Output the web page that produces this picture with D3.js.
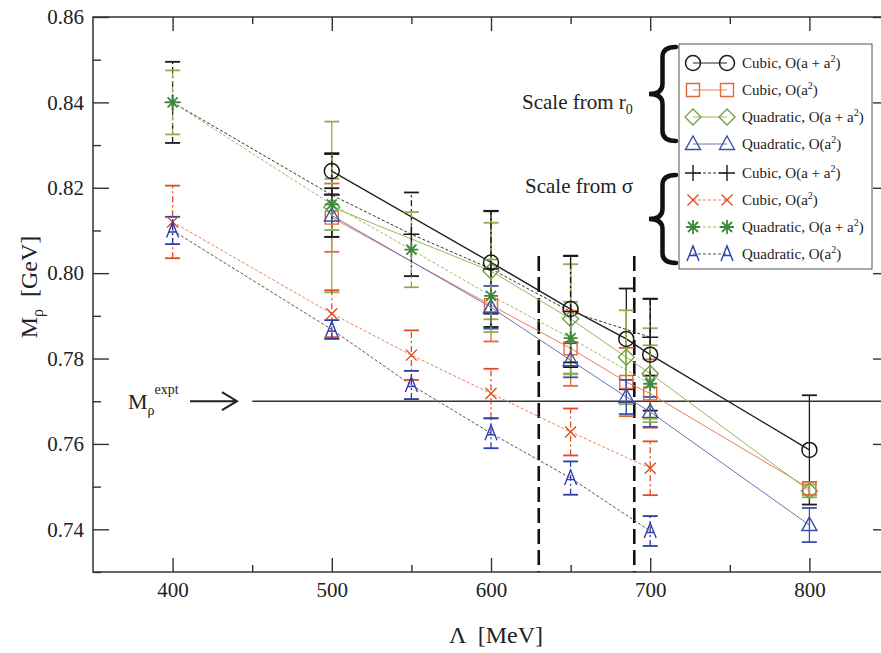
<!DOCTYPE html>
<html>
<head>
<meta charset="utf-8">
<script src="https://cdn.jsdelivr.net/npm/d3@7"></script>
<style>
  body { margin: 0; background: #fff; }
  svg { display: block; font-family: "Liberation Serif", "DejaVu Serif", serif; }
</style>
</head>
<body>
<svg width="881" height="653"></svg>
<script>
// cutoff values (MeV)
const lambdaR0 = [500, 600, 650, 685, 700, 800];
const lambdaSigma = [400, 500, 550, 600, 650, 700];

// scale from r0 (solid lines)
const cubicA_r0 = [0.8239, 0.8025, 0.7916, 0.7846, 0.7809, 0.7586];
const cubicA_r0_err = [0.004, 0.012, 0.0125, 0.0118, 0.0131, 0.0128];
const cubicB_r0 = [0.8130, 0.7925, 0.7824, 0.7745, 0.7718, 0.7496];
const cubicB_r0_err = [0.008, 0.0085, 0.0088, 0.008, 0.008, 0.0015];
const quadA_r0 = [0.8155, 0.8005, 0.7893, 0.7803, 0.7765, 0.7490];
const quadA_r0_err = [0.020, 0.0113, 0.0128, 0.011, 0.0106, 0.0015];
const quadB_r0 = [0.8135, 0.7920, 0.7796, 0.7710, 0.7675, 0.7410];
const quadB_r0_err = [0.005, 0.005, 0.004, 0.004, 0.0035, 0.004];

// scale from sigma (dashed lines)
const cubicA_sig = [0.8400, 0.8183, 0.8091, 0.8010, 0.7910, 0.7850];
const cubicA_sig_err = [0.0095, 0.0098, 0.0098, 0.0136, 0.013, 0.009];
const cubicB_sig = [0.8120, 0.7905, 0.7808, 0.7718, 0.7628, 0.7543];
const cubicB_sig_err = [0.0085, 0.0055, 0.0058, 0.0058, 0.0055, 0.0063];
const quadA_sig = [0.8400, 0.8161, 0.8055, 0.7947, 0.7848, 0.7741];
const quadA_sig_err = [0.0075, 0.006, 0.0088, 0.0085, 0.0085, 0.009];
const quadB_sig = [0.8100, 0.7868, 0.7738, 0.7625, 0.7520, 0.7396];
const quadB_sig_err = [0.0032, 0.0022, 0.0033, 0.0035, 0.0039, 0.0035];

const xTicks = [400, 500, 600, 700, 800];
const xMinor = [450, 550, 650, 750];
const yTicks = [0.74, 0.76, 0.78, 0.80, 0.82, 0.84, 0.86];
const yMinor = [0.73, 0.75, 0.77, 0.79, 0.81, 0.83, 0.85];
const mExpt = 0.770;
const windowLines = [630, 690];

const series = [
  {name: "Cubic, O(a + a", xs: lambdaR0, v: cubicA_r0, e: cubicA_r0_err, mark: "circle", col: "#1a1a1a", line: "#222", dash: null},
  {name: "Cubic, O(a", xs: lambdaR0, v: cubicB_r0, e: cubicB_r0_err, mark: "square", col: "#e5673c", line: "#e8805a", dash: null},
  {name: "Quadratic, O(a + a", xs: lambdaR0, v: quadA_r0, e: quadA_r0_err, mark: "diamond", col: "#6fa24a", line: "#98b85a", dash: null},
  {name: "Quadratic, O(a", xs: lambdaR0, v: quadB_r0, e: quadB_r0_err, mark: "triangle", col: "#4050a8", line: "#6872b8", dash: null},
  {name: "Cubic, O(a + a", xs: lambdaSigma, v: cubicA_sig, e: cubicA_sig_err, mark: "plus", col: "#1a1a1a", line: "#333", dash: "3,2"},
  {name: "Cubic, O(a", xs: lambdaSigma, v: cubicB_sig, e: cubicB_sig_err, mark: "cross", col: "#e04a24", line: "#e8805a", dash: "3,2"},
  {name: "Quadratic, O(a + a", xs: lambdaSigma, v: quadA_sig, e: quadA_sig_err, mark: "star", col: "#3a8a3a", line: "#a2b860", dash: "3,2"},
  {name: "Quadratic, O(a", xs: lambdaSigma, v: quadB_sig, e: quadB_sig_err, mark: "lambda", col: "#2e3ea8", line: "#555", dash: "3,2"}
];

const svg = d3.select("svg");
const plotLeft = 93, plotTop = 17, plotRight = 889, plotBottom = 572;

const x = d3.scaleLinear().domain([350, 850]).range([plotLeft, plotRight]);
const y = d3.scaleLinear().domain([0.73, 0.86]).range([plotBottom, plotTop]);

// frame
svg.append("rect")
    .attr("x", plotLeft).attr("y", plotTop)
    .attr("width", plotRight - plotLeft).attr("height", plotBottom - plotTop)
    .attr("fill", "none").attr("stroke", "#333").attr("stroke-width", 1.5);

// axes with inward ticks
function styleAxis(g) {
    g.select(".domain").remove();
    g.selectAll(".tick line").attr("stroke", "#333").attr("stroke-width", 1.4);
    g.selectAll("text").attr("fill", "#222").style("font-size", "21px")
        .style("font-family", "'Liberation Serif', serif");
}
svg.append("g").attr("transform", `translate(0,${plotBottom})`)
    .call(d3.axisBottom(x).tickValues(xTicks).tickSize(-14).tickPadding(10).tickFormat(d3.format("d")))
    .call(styleAxis);
svg.append("g").attr("transform", `translate(0,${plotBottom})`)
    .call(d3.axisBottom(x).tickValues(xMinor).tickSize(-7).tickFormat(""))
    .call(styleAxis);
svg.append("g").attr("transform", `translate(0,${plotTop})`)
    .call(d3.axisTop(x).tickValues(xTicks).tickSize(-14).tickFormat(""))
    .call(styleAxis);
svg.append("g").attr("transform", `translate(0,${plotTop})`)
    .call(d3.axisTop(x).tickValues(xMinor).tickSize(-7).tickFormat(""))
    .call(styleAxis);
svg.append("g").attr("transform", `translate(${plotLeft},0)`)
    .call(d3.axisLeft(y).tickValues(yTicks).tickSize(-16).tickPadding(9).tickFormat(d3.format(".2f")))
    .call(styleAxis);
svg.append("g").attr("transform", `translate(${plotLeft},0)`)
    .call(d3.axisLeft(y).tickValues(yMinor).tickSize(-8).tickFormat(""))
    .call(styleAxis);
svg.append("g").attr("transform", `translate(${plotRight},0)`)
    .call(d3.axisRight(y).tickValues(yTicks).tickSize(-16).tickFormat(""))
    .call(styleAxis);
svg.append("g").attr("transform", `translate(${plotRight},0)`)
    .call(d3.axisRight(y).tickValues(yMinor).tickSize(-8).tickFormat(""))
    .call(styleAxis);

// experimental mass line
svg.append("line")
    .attr("x1", x(450)).attr("x2", plotRight)
    .attr("y1", y(mExpt)).attr("y2", y(mExpt))
    .attr("stroke", "#333").attr("stroke-width", 1.3);

// window boundaries
svg.selectAll(".win").data(windowLines).enter().append("line")
    .attr("x1", d => x(d)).attr("x2", d => x(d))
    .attr("y1", y(0.804)).attr("y2", plotBottom)
    .attr("stroke", "#111").attr("stroke-width", 2.6)
    .attr("stroke-dasharray", "15,6");

// markers
function markerPath(type) {
    switch (type) {
        case "square": return "M-6.5,-6.5H6.5V6.5H-6.5Z";
        case "diamond": return "M0,-8L8,0L0,8L-8,0Z";
        case "triangle": return "M0,-8L7.5,5.5L-7.5,5.5Z";
        case "plus": return "M-8,0H8M0,-8V8";
        case "cross": return "M-5.5,-5.5L5.5,5.5M-5.5,5.5L5.5,-5.5";
        case "star": return "M-7,0H7M0,-7V7M-5,-5L5,5M-5,5L5,-5";
        case "lambda": return "M-6,7L0,-8L6,7M-3.5,1.5H3.5";
    }
    return "";
}
function drawMarker(g, type, col, cx, cy) {
    if (type === "circle") {
        g.append("circle").attr("cx", cx).attr("cy", cy).attr("r", 7.5)
            .attr("fill", "none").attr("stroke", col).attr("stroke-width", 1.5);
    } else {
        g.append("path").attr("d", markerPath(type))
            .attr("transform", `translate(${cx},${cy})`)
            .attr("fill", "none").attr("stroke", col)
            .attr("stroke-width", type === "star" ? 1.8 : 1.4);
    }
}

const line = d3.line().x(d => x(d[0])).y(d => y(d[1]));
const plot = svg.append("g");

series.forEach(s => {
    const pts = s.xs.map((xv, i) => [xv, s.v[i], s.e[i]]);
    plot.append("path").datum(pts)
        .attr("d", line)
        .attr("fill", "none")
        .attr("stroke", s.line)
        .attr("stroke-width", s.mark === "circle" ? 1.4 : 1)
        .attr("stroke-dasharray", s.dash);
});

series.forEach(s => {
    const pts = s.xs.map((xv, i) => [xv, s.v[i], s.e[i]]);
    const eb = plot.append("g").attr("stroke", s.mark === "star" || s.mark === "diamond" ? "#8fae4e" : s.col)
        .attr("stroke-width", 1.3);
    pts.forEach(p => {
        const cx = x(p[0]);
        eb.append("line").attr("x1", cx).attr("x2", cx)
            .attr("y1", y(p[1] - p[2])).attr("y2", y(p[1] + p[2]))
            .attr("stroke-dasharray", s.dash ? "6,3,2,3" : null);
        [p[1] - p[2], p[1] + p[2]].forEach(v => {
            eb.append("line").attr("x1", cx - 7.5).attr("x2", cx + 7.5)
                .attr("y1", y(v)).attr("y2", y(v)).attr("stroke-width", 1.8);
        });
    });
});

series.forEach(s => {
    const g = plot.append("g");
    s.xs.forEach((xv, i) => drawMarker(g, s.mark, s.col, x(xv), y(s.v[i])));
});

// legend
const lg = svg.append("g");
lg.append("rect").attr("x", 679).attr("y", 44).attr("width", 193).attr("height", 225)
    .attr("fill", "#fff").attr("stroke", "#555").attr("stroke-width", 1);
series.forEach((s, i) => {
    const ry = i < 4 ? 63 + i * 27 : 173 + (i - 4) * 27;
    lg.append("line").attr("x1", 693).attr("x2", 727).attr("y1", ry).attr("y2", ry)
        .attr("stroke", s.line).attr("stroke-width", 1).attr("stroke-dasharray", s.dash);
    drawMarker(lg, s.mark, s.col, 693, ry);
    drawMarker(lg, s.mark, s.col, 727, ry);
    const t = lg.append("text").attr("x", 742).attr("y", ry + 5)
        .style("font-size", "15px").attr("fill", "#222");
    t.append("tspan").text(s.name);
    t.append("tspan").attr("dy", -6).style("font-size", "10px").text("2");
    t.append("tspan").attr("dy", 6).text(")");
});

// braces and scale labels
function brace(xr, y0, y1, w) {
    const xm = xr - w / 2, xl = xr - w, ym = (y0 + y1) / 2, r = 10;
    return `M${xr},${y0}Q${xm},${y0} ${xm},${y0 + r}L${xm},${ym - r}Q${xm},${ym} ${xl},${ym}` +
        `Q${xm},${ym} ${xm},${ym + r}L${xm},${y1 - r}Q${xm},${y1} ${xr},${y1}`;
}
svg.append("path").attr("d", brace(676, 47, 141, 27))
    .attr("fill", "none").attr("stroke", "#111").attr("stroke-width", 4.5).attr("stroke-linecap", "round");
svg.append("path").attr("d", brace(676, 175, 263, 27))
    .attr("fill", "none").attr("stroke", "#111").attr("stroke-width", 4.5).attr("stroke-linecap", "round");

const s1 = svg.append("text").attr("x", 522).attr("y", 109).style("font-size", "21px").attr("fill", "#222");
s1.append("tspan").text("Scale from r");
s1.append("tspan").attr("dy", 5).style("font-size", "14px").text("0");
svg.append("text").attr("x", 525).attr("y", 193).style("font-size", "21px").attr("fill", "#222")
    .text("Scale from σ");

// M_rho expt label and arrow
const ex = svg.append("text").attr("x", 128).attr("y", 409).style("font-size", "22px").attr("fill", "#222");
ex.append("tspan").text("M");
ex.append("tspan").attr("dy", 6).style("font-size", "14px").text("ρ");
ex.append("tspan").attr("dy", -21).style("font-size", "14px").text("expt");
svg.append("path").attr("d", `M190,${y(mExpt)}H236M222,${y(mExpt) - 9}L237,${y(mExpt)}L222,${y(mExpt) + 9}`)
    .attr("fill", "none").attr("stroke", "#222").attr("stroke-width", 2);

// axis titles
const yt = svg.append("text").attr("transform", "translate(37,287) rotate(-90)")
    .attr("text-anchor", "middle").style("font-size", "24px").attr("fill", "#222")
    .style("white-space", "pre");
yt.append("tspan").text("M");
yt.append("tspan").attr("dy", 6).style("font-size", "16px").text("ρ");
yt.append("tspan").attr("dy", -6).text("  [GeV]");

svg.append("text").attr("x", 496).attr("y", 643).attr("text-anchor", "middle")
    .style("font-size", "24px").attr("fill", "#222").style("white-space", "pre")
    .text("Λ  [MeV]");
</script>
</body>
</html>
